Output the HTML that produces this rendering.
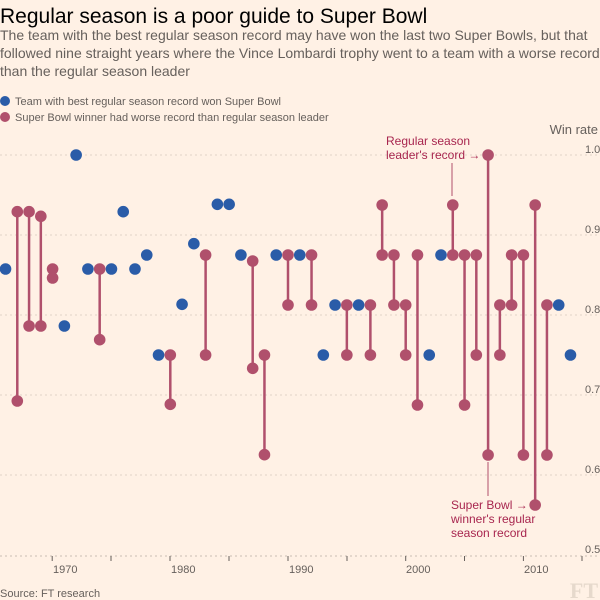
<!DOCTYPE html>
<html><head><meta charset="utf-8"><style>
html,body{margin:0;padding:0;background:#fff1e5;}
svg{display:block;font-family:"Liberation Sans",sans-serif;}
</style></head><body>
<svg width="600" height="600" viewBox="0 0 600 600" xmlns="http://www.w3.org/2000/svg">
<rect width="600" height="600" fill="#fff1e5"/>
<text x="0" y="23" font-size="21" fill="#000">Regular season is a poor guide to Super Bowl</text>
<text font-size="14" fill="#66605c">
<tspan x="0" y="40">The team with the best regular season record may have won the last two Super Bowls, but that</tspan>
<tspan x="0" y="58">followed nine straight years where the Vince Lombardi trophy went to a team with a worse record</tspan>
<tspan x="0" y="76">than the regular season leader</tspan></text>
<circle cx="5" cy="101" r="5" fill="#2a5ca8"/>
<text x="15" y="105" font-size="11" fill="#66605c">Team with best regular season record won Super Bowl</text>
<circle cx="5" cy="117" r="5" fill="#b0506c"/>
<text x="15" y="121" font-size="11" fill="#66605c">Super Bowl winner had worse record than regular season leader</text>
<text x="598" y="134" font-size="13" fill="#66605c" text-anchor="end">Win rate</text>
<g stroke="#e0d3c8" stroke-dasharray="2,3" stroke-width="1">
<line x1="0" x2="600" y1="155" y2="155"/><line x1="0" x2="600" y1="235" y2="235"/>
<line x1="0" x2="600" y1="315" y2="315"/><line x1="0" x2="600" y1="395" y2="395"/>
<line x1="0" x2="600" y1="475" y2="475"/>
</g>
<line x1="0" x2="600" y1="556" y2="556" stroke="#c9bdb2" stroke-dasharray="2,3"/>
<g font-size="11" fill="#66605c">
<text x="585" y="153">1.0</text><text x="585" y="233">0.9</text><text x="585" y="313">0.8</text>
<text x="585" y="393">0.7</text><text x="585" y="473">0.6</text><text x="585" y="553">0.5</text>
</g>
<g stroke="#66605c" stroke-width="1">
<line x1="52.2" x2="52.2" y1="556" y2="561"/><line x1="111" x2="111" y1="556" y2="561"/>
<line x1="170" x2="170" y1="556" y2="561"/><line x1="229" x2="229" y1="556" y2="561"/>
<line x1="288" x2="288" y1="556" y2="561"/><line x1="347" x2="347" y1="556" y2="561"/>
<line x1="405.7" x2="405.7" y1="556" y2="561"/><line x1="464.5" x2="464.5" y1="556" y2="561"/>
<line x1="523.4" x2="523.4" y1="556" y2="561"/><line x1="582" x2="582" y1="556" y2="561"/>
</g>
<g font-size="11" fill="#66605c">
<text x="53" y="573">1970</text><text x="171" y="573">1980</text><text x="289" y="573">1990</text>
<text x="406" y="573">2000</text><text x="524" y="573">2010</text>
</g>
<text x="0" y="597" font-size="11" fill="#66605c">Source: FT research</text>
<text x="598" y="598" font-size="22" fill="#e6d9cc" text-anchor="end" font-family="Liberation Serif,serif" font-weight="bold">FT</text>
<g id="pts"></g>
<g stroke="#b0506c" stroke-width="1">
<line x1="452" x2="452" y1="163" y2="196"/>
<line x1="488" x2="488" y1="462" y2="496"/>
</g>
<g font-size="12" fill="#a8264f">
<text x="386" y="145">Regular season</text>
<text x="386" y="159">leader's record →</text>
<text x="451" y="509">Super Bowl →</text>
<text x="451" y="523">winner's regular</text>
<text x="451" y="537">season record</text>
</g>
</svg>
<script>
var d=[[1966,269],[1967,211.7,401],[1968,211.7,326],[1969,216.3,326],[1970,269,278],[1971,326],[1972,155],[1973,269],[1974,269,339.7],[1975,269],[1976,211.7],[1977,269],[1978,255],[1979,355],[1980,355,404.3],[1981,304.3],[1982,243.7],[1983,255,355],[1984,204.3],[1985,204.3],[1986,255],[1987,261,368.3],[1988,355,454.7],[1989,255],[1990,255,305],[1991,255],[1992,255,305],[1993,355],[1994,305],[1995,305,355],[1996,305],[1997,305,355],[1998,205,255],[1999,255,305],[2000,305,355],[2001,255,405],[2002,355],[2003,255],[2004,205,255],[2005,255,405],[2006,255,355],[2007,155,455],[2008,305,355],[2009,255,305],[2010,255,455],[2011,205,505],[2012,305,455],[2013,305],[2014,355]];
var s='';
d.forEach(function(p){var x=405.7+(p[0]-2000)*11.77;
if(p.length==2){s+='<circle cx="'+x+'" cy="'+p[1]+'" r="5.8" fill="#2a5ca8"/>';}
else{s+='<line x1="'+x+'" x2="'+x+'" y1="'+p[1]+'" y2="'+p[2]+'" stroke="#b0506c" stroke-width="2.5"/><circle cx="'+x+'" cy="'+p[1]+'" r="5.8" fill="#b0506c"/><circle cx="'+x+'" cy="'+p[2]+'" r="5.8" fill="#b0506c"/>';}});
document.getElementById('pts').innerHTML=s;
</script>
</body></html>
